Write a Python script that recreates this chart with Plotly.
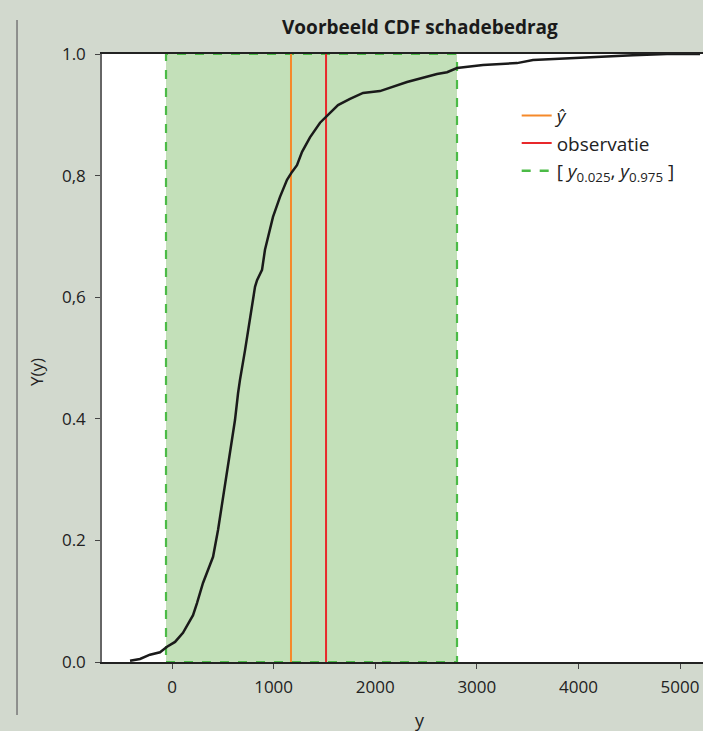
import plotly.graph_objects as go

# CDF curve
cdf_x = [-413, -315, -217, -118, -49, 30, 108, 207, 246, 305, 374, 404, 453, 502, 551,
         591, 620, 650, 669, 719, 768, 817, 837, 886, 915, 965, 994, 1063, 1132, 1181,
         1230, 1280, 1358, 1457, 1555, 1634, 1752, 1880, 2047, 2175, 2313, 2470, 2608,
         2707, 2805, 3061, 3396, 3553, 3888, 4213, 4537, 4872, 5197]
cdf_y = [0.002, 0.005, 0.012, 0.016, 0.025, 0.033, 0.048, 0.077, 0.097, 0.130, 0.160,
         0.173, 0.217, 0.271, 0.327, 0.365, 0.398, 0.442, 0.464, 0.513, 0.567, 0.617,
         0.628, 0.645, 0.678, 0.715, 0.732, 0.765, 0.793, 0.806, 0.817, 0.839, 0.863,
         0.887, 0.903, 0.916, 0.926, 0.936, 0.939, 0.946, 0.954, 0.961, 0.967, 0.970,
         0.977, 0.982, 0.985, 0.990, 0.993, 0.995, 0.998, 1.0, 1.0]

y_hat = 1171
observatie = 1516
q_low, q_high = -59, 2805

y_tickvals = [0.0, 0.2, 0.4, 0.6, 0.8, 1.0]
y_ticktext = ["0.0", "0.2", "0.4", "0,6", "0,8", "1.0"]
x_tickvals = [0, 1000, 2000, 3000, 4000, 5000]

FONT = "Open Sans"
BG = "#d2d9ce"
GREEN = "#4cbb47"

fig = go.Figure()

# interval band
fig.add_shape(type="rect", xref="x", yref="y", x0=q_low, x1=q_high, y0=0, y1=1,
              fillcolor="#c3e0b9", line=dict(color=GREEN, width=2.2, dash="dash"),
              layer="below")

fig.add_trace(go.Scatter(x=[y_hat, y_hat], y=[0, 1], mode="lines",
                         line=dict(color="#f5892a", width=2),
                         name="<i>ŷ</i>", legendrank=1))
fig.add_trace(go.Scatter(x=[observatie, observatie], y=[0, 1], mode="lines",
                         line=dict(color="#e8282b", width=2),
                         name="observatie", legendrank=2))
fig.add_trace(go.Scatter(x=[None], y=[None], mode="lines",
                         line=dict(color=GREEN, width=2.5, dash="dash"),
                         name="[ <i>y</i><sub>0.025</sub>, <i>y</i><sub>0.975</sub> ]",
                         legendrank=3))
fig.add_trace(go.Scatter(x=cdf_x, y=cdf_y, mode="lines",
                         line=dict(color="#1a1a1a", width=2.5),
                         showlegend=False))

# left decorative vertical line
fig.add_shape(type="line", xref="paper", yref="paper",
              x0=-0.1414, x1=-0.1414, y0=-0.087, y1=1.056,
              line=dict(color="#777777", width=1.5))

fig.update_layout(
    width=703, height=731,
    margin=dict(l=102, r=0, t=54, b=69),
    paper_bgcolor=BG, plot_bgcolor="white",
    font=dict(family=FONT, size=16, color="#222222"),
    showlegend=True,
    legend=dict(x=0.69, y=0.93, xanchor="left", yanchor="top",
                bgcolor="rgba(0,0,0,0)", font=dict(size=19, color="#222222"),
                tracegroupgap=0, itemwidth=30),
    xaxis=dict(range=[-689, 5226], tickvals=x_tickvals, showgrid=False, zeroline=False,
               showline=True, linecolor="#222222", linewidth=1.5, mirror=True,
               ticks="outside", ticklen=5, tickcolor="#444444", ticklabelstandoff=4,
               tickfont=dict(size=17, color="#222222")),
    yaxis=dict(range=[0, 1], tickvals=y_tickvals, ticktext=y_ticktext, showgrid=False,
               zeroline=False, showline=True, linecolor="#666666", linewidth=1.5,
               ticks="outside", ticklen=5, tickcolor="#444444", ticklabelstandoff=6,
               tickfont=dict(size=17, color="#222222")),
    annotations=[
        dict(text="<b>Voorbeeld CDF schadebedrag</b>", xref="paper", yref="paper",
             x=(420 - 102) / 601, y=(662 - 27) / 608, xanchor="center", yanchor="middle",
             showarrow=False, font=dict(size=19, color="#1a1a1a")),
        dict(text="y", xref="paper", yref="paper",
             x=(420 - 102) / 601, y=(662 - 720) / 608, xanchor="center", yanchor="middle",
             showarrow=False, font=dict(size=18, color="#222222")),
        dict(text="Υ(y)", xref="paper", yref="paper", textangle=-90,
             x=(36 - 102) / 601, y=(662 - 372) / 608, xanchor="center", yanchor="middle",
             showarrow=False, font=dict(size=17, color="#222222")),
    ],
)

fig.write_html("out.html", post_script="document.body.style.margin='0';",
               config={"displayModeBar": False})
